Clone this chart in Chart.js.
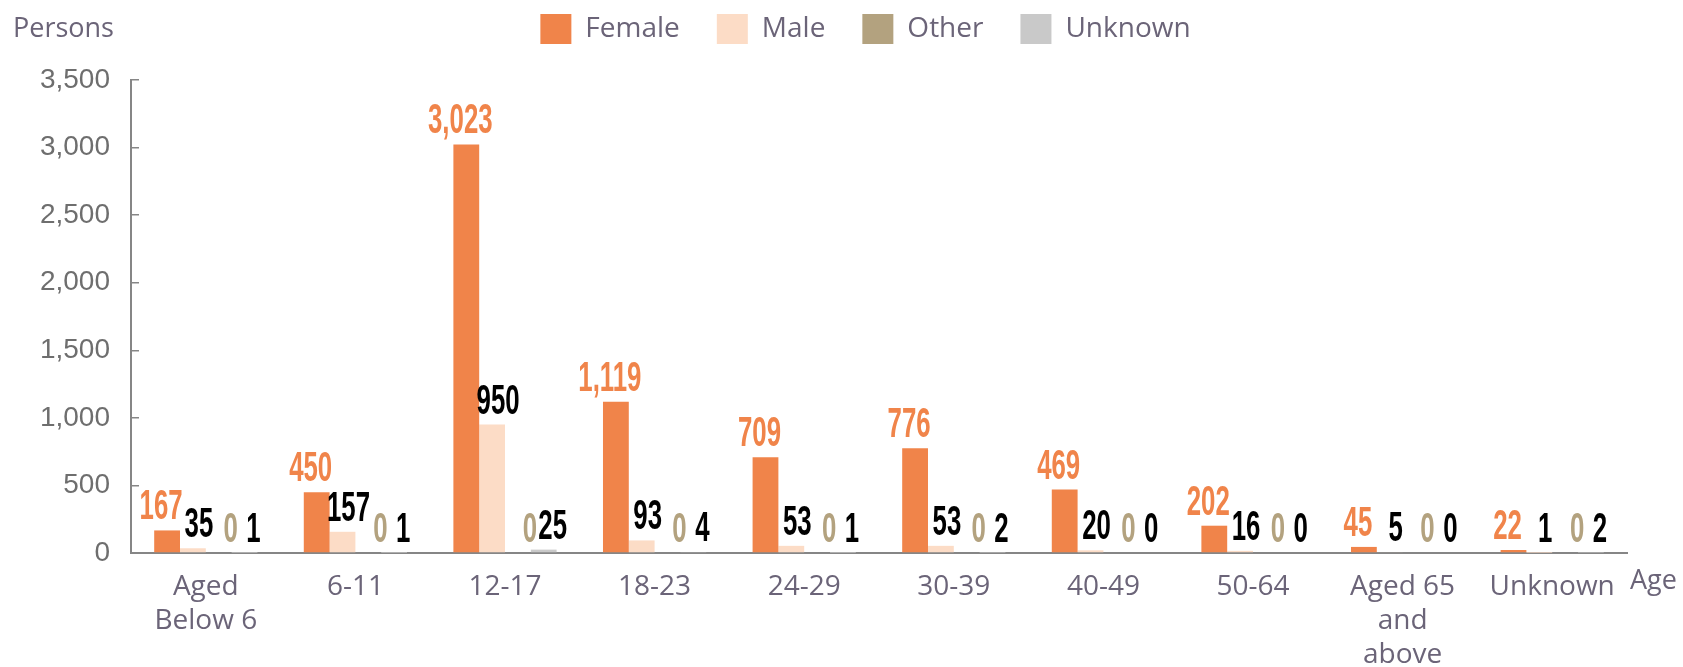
<!DOCTYPE html>
<html>
<head>
<meta charset="utf-8">
<script src="https://cdn.jsdelivr.net/npm/chart.js@4/dist/chart.umd.min.js"></script>
<style>
  html, body { margin: 0; padding: 0; background: #fff; }
  #wrap { width: 1683px; height: 667px; }
</style>
</head>
<body>
<div id="wrap"><canvas id="ageChart"></canvas></div>
<script>
// Age groups
const ageGroups = [["Aged", "Below 6"], "6-11", "12-17", "18-23", "24-29", "30-39", "40-49", "50-64", ["Aged 65", "and", "above"], "Unknown"];

// Persons by sex
const femaleData = [167, 450, 3023, 1119, 709, 776, 469, 202, 45, 22];
const maleData = [35, 157, 950, 93, 53, 53, 20, 16, 5, 1];
const otherData = [0, 0, 0, 0, 0, 0, 0, 0, 0, 0];
const unknownData = [1, 1, 25, 4, 1, 2, 0, 0, 0, 2];

const yTicks = [0, 500, 1000, 1500, 2000, 2500, 3000, 3500];

const textColor = "#6b6478";
const labelColors = ["#F0844A", "#000000", "#B3A27F", "#000000"];
const labelShift = [-6, 6, 12, 9];

// value labels above bars, drawn narrow like the original
const barLabels = {
    id: "barLabels",
    afterDatasetsDraw(chart) {
        const ctx = chart.ctx;
        chart.data.datasets.forEach(function(ds, i) {
            const meta = chart.getDatasetMeta(i);
            meta.data.forEach(function(bar, j) {
                const txt = ds.data[j].toLocaleString("en-US");
                ctx.save();
                ctx.translate(bar.x + labelShift[i], bar.y - 11);
                ctx.scale(0.6, 1);
                ctx.font = "bold 43px 'Liberation Sans', Arial, sans-serif";
                ctx.fillStyle = labelColors[i];
                ctx.textAlign = "center";
                ctx.textBaseline = "alphabetic";
                ctx.fillText(txt, 0, 0);
                ctx.restore();
            });
        });
    }
};

// axis captions "Persons" and "Age"
const axisCaptions = {
    id: "axisCaptions",
    afterDraw(chart) {
        const ctx = chart.ctx;
        const x = chart.scales.x;
        ctx.save();
        ctx.fillStyle = textColor;
        ctx.textBaseline = "alphabetic";
        ctx.textAlign = "left";
        ctx.font = "27px 'Open Sans', sans-serif";
        ctx.fillText("Persons", 13, 37);
        ctx.fillText("Age", x.right + 3, x.top + 36);
        ctx.restore();
    }
};

// legend: a bit more room below, and nudged right like the original
const legendTweak = {
    id: "legendTweak",
    beforeInit(chart) {
        const legend = chart.legend;
        const fit = legend.fit;
        const draw = legend.draw;
        legend.fit = function() {
            fit.call(legend);
            legend.height += 26;
        };
        legend.draw = function() {
            chart.ctx.save();
            chart.ctx.translate(37, 0);
            draw.call(legend);
            chart.ctx.restore();
        };
    }
};

const ctx = document.getElementById("ageChart").getContext("2d");
new Chart(ctx, {
    type: "bar",
    data: {
        labels: ageGroups,
        datasets: [
            { label: "Female", data: femaleData, backgroundColor: "#F0844A" },
            { label: "Male", data: maleData, backgroundColor: "#FCDCC6" },
            { label: "Other", data: otherData, backgroundColor: "#B3A27F" },
            { label: "Unknown", data: unknownData, backgroundColor: "#C9C9C9" }
        ]
    },
    options: {
        responsive: true,
        maintainAspectRatio: false,
        animation: false,
        layout: { padding: { top: -23, left: 30, right: 56, bottom: 0 } },
        datasets: { bar: { categoryPercentage: 0.69, barPercentage: 1.0 } },
        plugins: {
            legend: {
                position: "top",
                labels: {
                    boxWidth: 31,
                    boxHeight: 30,
                    padding: 37,
                    color: textColor,
                    font: { family: "'Open Sans', sans-serif", size: 28 }
                }
            },
            tooltip: { enabled: false }
        },
        scales: {
            x: {
                grid: { display: false, drawTicks: false },
                border: { display: true, color: "#868686", width: 2 },
                ticks: {
                    padding: 17,
                    color: textColor,
                    maxRotation: 0,
                    autoSkip: false,
                    font: { family: "'Open Sans', sans-serif", size: 28, lineHeight: 1.22 }
                },
                afterFit(scale) { scale.height = 114; }
            },
            y: {
                min: 0,
                max: 3500,
                afterBuildTicks(scale) { scale.ticks = yTicks.map(v => ({ value: v })); },
                grid: { drawOnChartArea: false, tickLength: -8, color: "#868686", lineWidth: 1.5 },
                border: { display: true, color: "#868686", width: 2 },
                ticks: {
                    padding: 29,
                    color: "#6e6e6e",
                    font: { family: "'Liberation Sans', Arial, sans-serif", size: 28 },
                    callback: v => v.toLocaleString("en-US")
                },
                afterFit(scale) { scale.width = 101; }
            }
        }
    },
    plugins: [barLabels, axisCaptions, legendTweak]
});
</script>
</body>
</html>
